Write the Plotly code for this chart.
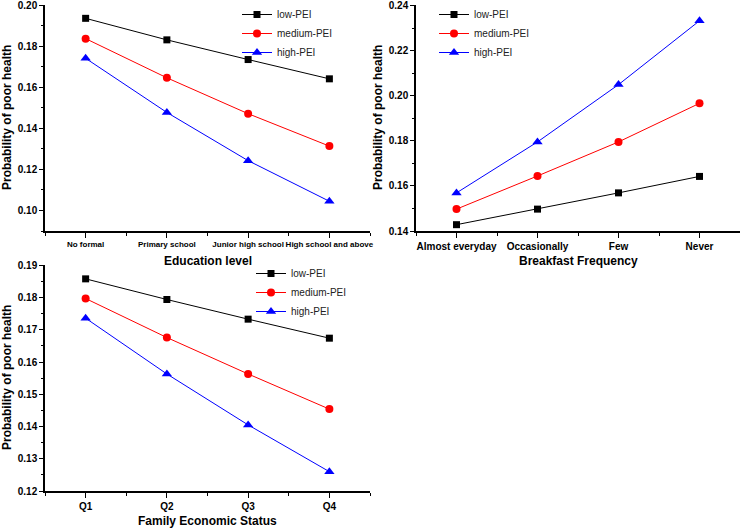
import plotly.graph_objects as go

# categories for each panel
edu_levels = ["No formal", "Primary school", "Junior high school", "High school and above"]
breakfast = ["Almost everyday", "Occasionally", "Few", "Never"]
econ_status = ["Q1", "Q2", "Q3", "Q4"]

# predicted probability of poor health, by PEI group
edu_low = [0.1937, 0.1832, 0.1736, 0.1642]
edu_med = [0.1838, 0.1647, 0.1472, 0.1314]
edu_high = [0.1742, 0.1478, 0.1243, 0.1045]

bf_low = [0.1428, 0.1497, 0.1569, 0.1642]
bf_med = [0.1497, 0.1644, 0.1795, 0.1966]
bf_high = [0.1569, 0.1795, 0.2049, 0.2332]

econ_low = [0.1858, 0.1794, 0.1733, 0.1674]
econ_med = [0.1797, 0.1676, 0.1563, 0.1454]
econ_high = [0.1736, 0.1563, 0.1405, 0.1260]

groups = ["low-PEI", "medium-PEI", "high-PEI"]
colors = ["#000000", "#ff0000", "#0000ff"]
symbols = ["square", "circle", "triangle-up"]
msizes = [7, 8, 9]

FONT = "Liberation Sans, Arial, sans-serif"
W, H = 740, 530

panels = [
    dict(cats=edu_levels, series=[edu_low, edu_med, edu_high], xa="x", ya="y", leg="legend",
         title="Education level", yrange=[0.09, 0.2002], dtick=0.02, xfs=8),
    dict(cats=breakfast, series=[bf_low, bf_med, bf_high], xa="x2", ya="y2", leg="legend2",
         title="Breakfast Frequency", yrange=[0.14, 0.2402], dtick=0.02, xfs=10),
    dict(cats=econ_status, series=[econ_low, econ_med, econ_high], xa="x3", ya="y3", leg="legend3",
         title="Family Economic Status", yrange=[0.12, 0.1901], dtick=0.01, xfs=10),
]

# panel boxes in pixels: (left, right, top, bottom)
boxes = [(45, 370, 5, 231), (416, 740, 5, 231), (45, 370, 265, 491)]
legend_pos = [(237, 0), (434, 0), (251, 259)]

fig = go.Figure()

for p, (l, r, t, b), (lx, ly) in zip(panels, boxes, legend_pos):
    idx = list(range(len(p["cats"])))
    for name, vals, c, s, ms in zip(groups, p["series"], colors, symbols, msizes):
        fig.add_trace(go.Scatter(
            x=idx, y=vals, name=name, mode="lines+markers",
            line=dict(color=c, width=1),
            marker=dict(color=c, symbol=s, size=ms),
            xaxis=p["xa"], yaxis=p["ya"], legend=p["leg"],
            cliponaxis=False,
        ))
    n = p["xa"][1:]
    fig.update_layout({
        f"xaxis{n}": dict(
            domain=[l / W, r / W], anchor=p["ya"], range=[-0.5, len(idx) - 0.5],
            tickmode="array", tickvals=idx, ticktext=p["cats"], tickangle=0,
            automargin=False, ticklabeloverflow="allow",
            showline=True, linecolor="black", linewidth=1.5,
            ticks="outside", ticklen=5, tickwidth=1.2, tickcolor="black",
            minor=dict(tickmode="linear", tick0=0.5, dtick=1, ticks="outside",
                       ticklen=3, tickcolor="black"),
            showgrid=False, zeroline=False,
            tickfont=dict(family=FONT, size=p["xfs"], color="black", weight="bold"),
        ),
        f"yaxis{n}": dict(
            domain=[1 - b / H, 1 - t / H], anchor=p["xa"], range=p["yrange"],
            dtick=p["dtick"], tickformat=".2f", automargin=False,
            ticklabeloverflow="allow",
            showline=True, linecolor="black", linewidth=1.5,
            ticks="outside", ticklen=4, tickwidth=1.2, tickcolor="black",
            minor=dict(dtick=p["dtick"] / 2, ticks="outside", ticklen=2, tickcolor="black"),
            showgrid=False, zeroline=False,
            tickfont=dict(family=FONT, size=10, color="black", weight="bold"),
        ),
        p["leg"]: dict(
            x=lx / W, y=1 - ly / H, xanchor="left", yanchor="top",
            bgcolor="rgba(0,0,0,0)", borderwidth=0, itemwidth=30,
            font=dict(family=FONT, size=10, color="#222"),
        ),
    })
    # axis titles
    fig.add_annotation(x=(l + r) / 2 / W, y=1 - (b + 30) / H, xref="paper", yref="paper",
                       xanchor="center", yanchor="middle",
                       text=p["title"], showarrow=False,
                       font=dict(family=FONT, size=12, color="black", weight="bold"))
    fig.add_annotation(x=(l - 38) / W, y=1 - (t + b) / 2 / H, xref="paper", yref="paper",
                       xanchor="center", yanchor="middle",
                       text="Probability of poor health", textangle=-90, showarrow=False,
                       font=dict(family=FONT, size=12, color="black", weight="bold"))

fig.update_layout(
    template="none",
    width=W, height=H,
    margin=dict(l=0, r=0, t=0, b=0),
    paper_bgcolor="white", plot_bgcolor="white",
    showlegend=True,
)

# drop the browser's default page margin so the figure sits at the window corner
fig.write_html("out.html", config={"displayModeBar": False},
               post_script="document.body.style.margin = '0px';")
